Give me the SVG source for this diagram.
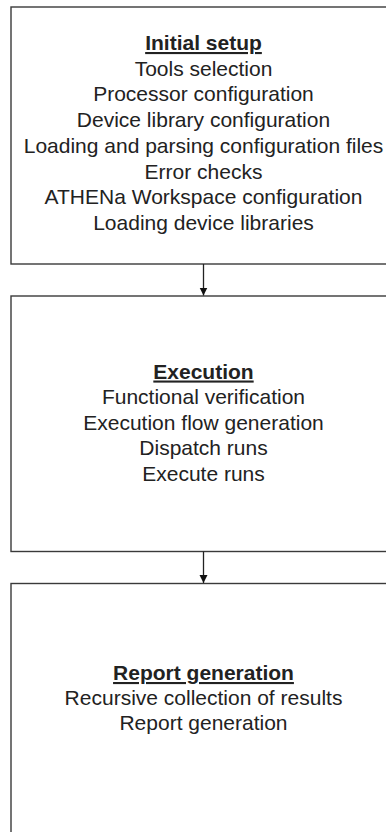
<svg xmlns="http://www.w3.org/2000/svg" width="386" height="832" viewBox="0 0 386 832">
<style>
.box{fill:#fff;stroke:#3a3a3a;stroke-width:1.4}
.t{font-family:"Liberation Sans",Arial,sans-serif;font-size:21px;fill:#222;text-anchor:middle}
.h{font-weight:bold;text-decoration:underline}
.conn{stroke:#222;stroke-width:1.3;fill:none}
</style>
<defs>
<marker id="ah" markerWidth="8" markerHeight="10" viewBox="0 0 8 10" refX="8" refY="5" orient="auto" markerUnits="userSpaceOnUse">
<path d="M0,1 L8,5 L0,9 Z" fill="#111"/>
</marker>
</defs>
<rect width="386" height="832" fill="#fff"/>
<g id="initial-setup">
<rect class="box" x="11" y="7" width="390" height="257"/>
<text class="t h" x="203.5" y="50">Initial setup</text>
<text class="t" x="203.5" y="75.7">Tools selection</text>
<text class="t" x="203.5" y="101.4">Processor configuration</text>
<text class="t" x="203.5" y="127.1">Device library configuration</text>
<text class="t" x="203.5" y="152.8">Loading and parsing configuration files</text>
<text class="t" x="203.5" y="178.5">Error checks</text>
<text class="t" x="203.5" y="204.2">ATHENa Workspace configuration</text>
<text class="t" x="203.5" y="229.9">Loading device libraries</text>
</g>
<g id="execution">
<rect class="box" x="11" y="296" width="390" height="255.5"/>
<text class="t h" x="203.5" y="378.5">Execution</text>
<text class="t" x="203.5" y="404">Functional verification</text>
<text class="t" x="203.5" y="429.5">Execution flow generation</text>
<text class="t" x="203.5" y="455">Dispatch runs</text>
<text class="t" x="203.5" y="480.5">Execute runs</text>
</g>
<g id="report-generation">
<rect class="box" x="11" y="583.5" width="390" height="270"/>
<text class="t h" x="203.5" y="680">Report generation</text>
<text class="t" x="203.5" y="705">Recursive collection of results</text>
<text class="t" x="203.5" y="730">Report generation</text>
</g>
<g id="connectors">
<line class="conn" x1="203.5" y1="264" x2="203.5" y2="295.5" marker-end="url(#ah)"/>
<line class="conn" x1="203.5" y1="551.5" x2="203.5" y2="583" marker-end="url(#ah)"/>
</g>
</svg>
